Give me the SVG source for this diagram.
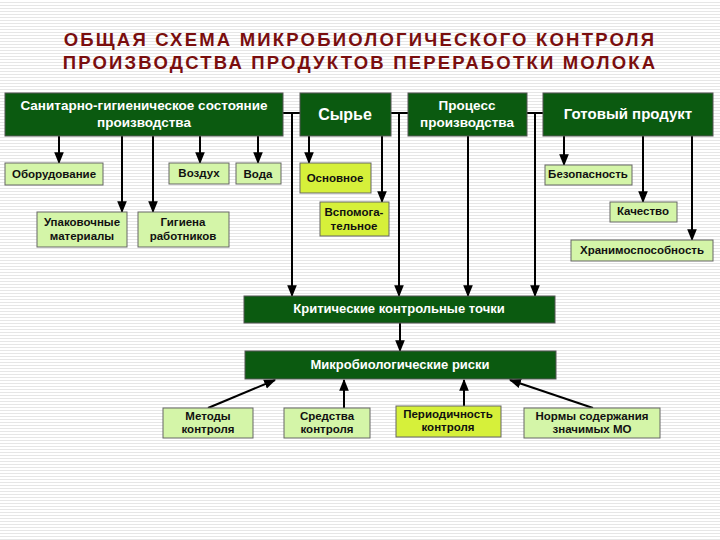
<svg xmlns="http://www.w3.org/2000/svg" width="720" height="540" viewBox="0 0 720 540">
<defs>
<pattern id="bg" width="4" height="3" patternUnits="userSpaceOnUse"><rect width="4" height="3" fill="#fff"/><rect y="2" width="4" height="1" fill="#e6e6e6"/></pattern>
<marker id="ar" viewBox="0 0 10 10" refX="9" refY="5" markerWidth="6" markerHeight="6" orient="auto"><path d="M0,1 L10,5 L0,9 z" fill="#000"/></marker>
<style>
.d{fill:#0b5a10;stroke:#555;stroke-width:1}
.l{fill:#d4f5a8;stroke:#666;stroke-width:1}
.y{fill:#d6f03a;stroke:#666;stroke-width:1}
.tw{font-family:"Liberation Sans",Arial,sans-serif;font-weight:bold;fill:#fff;text-anchor:middle}
.tb{font-family:"Liberation Sans",Arial,sans-serif;font-weight:bold;fill:#111;text-anchor:middle;font-size:11.5px}
.c{stroke:#000;stroke-width:2;fill:none}
.ca{stroke:#000;stroke-width:2;fill:none;marker-end:url(#ar)}
</style>
</defs>
<rect width="720" height="540" fill="url(#bg)"/>
<g id="title" font-family="Liberation Sans,Arial,sans-serif" font-weight="bold" font-size="18.5" fill="#7a0e0e" text-anchor="middle" letter-spacing="2.2">
<text x="360" y="46">ОБЩАЯ СХЕМА МИКРОБИОЛОГИЧЕСКОГО КОНТРОЛЯ</text>
<text x="360" y="69">ПРОИЗВОДСТВА  ПРОДУКТОВ  ПЕРЕРАБОТКИ  МОЛОКА</text>
</g>
<g id="connectors">
<path class="c" d="M283,113 H300 M391,113 H408 M527,113 H543"/>
<path class="ca" d="M292,113 V296"/>
<path class="ca" d="M399,113 V296"/>
<path class="ca" d="M468,136 V296"/>
<path class="ca" d="M535,113 V296"/>
<path class="ca" d="M59,136 V163"/>
<path class="ca" d="M200,136 V163"/>
<path class="ca" d="M258,136 V163"/>
<path class="ca" d="M122,136 V212"/>
<path class="ca" d="M153,136 V212"/>
<path class="ca" d="M309,136 V163"/>
<path class="ca" d="M382,136 V202"/>
<path class="ca" d="M564,136 V165"/>
<path class="ca" d="M643,136 V202"/>
<path class="ca" d="M692,136 V240"/>
<path class="ca" d="M400,323 V351"/>
<path class="ca" d="M208,408 L275,380"/>
<path class="ca" d="M344,408 V380"/>
<path class="ca" d="M464,406 V380"/>
<path class="ca" d="M593,408 L510,380"/>
</g>
<g id="n-san"><rect class="d" x="5" y="93" width="278" height="43"/><text class="tw" font-size="13.5" x="144" y="110">Санитарно-гигиеническое состояние</text><text class="tw" font-size="13.5" x="144" y="127">производства</text></g>
<g id="n-syr"><rect class="d" x="300" y="93" width="91" height="43"/><text class="tw" font-size="16" x="345" y="120">Сырье</text></g>
<g id="n-proc"><rect class="d" x="408" y="93" width="119" height="43"/><text class="tw" font-size="13.5" x="467" y="110">Процесс</text><text class="tw" font-size="13.5" x="467" y="127">производства</text></g>
<g id="n-got"><rect class="d" x="543" y="93" width="170" height="43"/><text class="tw" font-size="15" x="628" y="119">Готовый продукт</text></g>
<g id="n-obor"><rect class="l" x="5" y="163" width="98" height="22"/><text class="tb" x="54" y="178">Оборудование</text></g>
<g id="n-vozd"><rect class="l" x="169" y="163" width="60" height="21"/><text class="tb" x="199" y="177">Воздух</text></g>
<g id="n-voda"><rect class="l" x="236" y="163" width="45" height="21"/><text class="tb" x="258" y="178">Вода</text></g>
<g id="n-upak"><rect class="l" x="37" y="212" width="90" height="35"/><text class="tb" x="82" y="226">Упаковочные</text><text class="tb" x="82" y="240">материалы</text></g>
<g id="n-gig"><rect class="l" x="138" y="212" width="91" height="35"/><text class="tb" x="183" y="226">Гигиена</text><text class="tb" x="183" y="240">работников</text></g>
<g id="n-osn"><rect class="y" x="300" y="163" width="71" height="30"/><text class="tb" x="335" y="182">Основное</text></g>
<g id="n-vsp"><rect class="y" x="320" y="202" width="69" height="34"/><text class="tb" x="354" y="216">Вспомога-</text><text class="tb" x="354" y="230">тельное</text></g>
<g id="n-bez"><rect class="l" x="545" y="165" width="87" height="20"/><text class="tb" x="588" y="178">Безопасность</text></g>
<g id="n-kach"><rect class="l" x="610" y="202" width="67" height="20"/><text class="tb" x="643" y="215">Качество</text></g>
<g id="n-hran"><rect class="l" x="571" y="240" width="142" height="21"/><text class="tb" x="642" y="254">Хранимоспособность</text></g>
<g id="n-kkt"><rect class="d" x="244" y="296" width="311" height="27"/><text class="tw" font-size="13" x="399" y="313">Критические контрольные точки</text></g>
<g id="n-mikro"><rect class="d" x="245" y="351" width="311" height="28"/><text class="tw" font-size="13" x="400" y="369">Микробиологические риски</text></g>
<g id="n-met"><rect class="l" x="163" y="408" width="90" height="30"/><text class="tb" x="208" y="420">Методы</text><text class="tb" x="208" y="433">контроля</text></g>
<g id="n-sred"><rect class="l" x="284" y="408" width="86" height="30"/><text class="tb" x="327" y="420">Средства</text><text class="tb" x="327" y="433">контроля</text></g>
<g id="n-per"><rect class="y" x="396" y="406" width="105" height="31"/><text class="tb" x="448" y="418">Периодичность</text><text class="tb" x="448" y="431">контроля</text></g>
<g id="n-norm"><rect class="l" x="524" y="408" width="136" height="30"/><text class="tb" x="592" y="420">Нормы содержания</text><text class="tb" x="592" y="433">значимых МО</text></g>
</svg>
